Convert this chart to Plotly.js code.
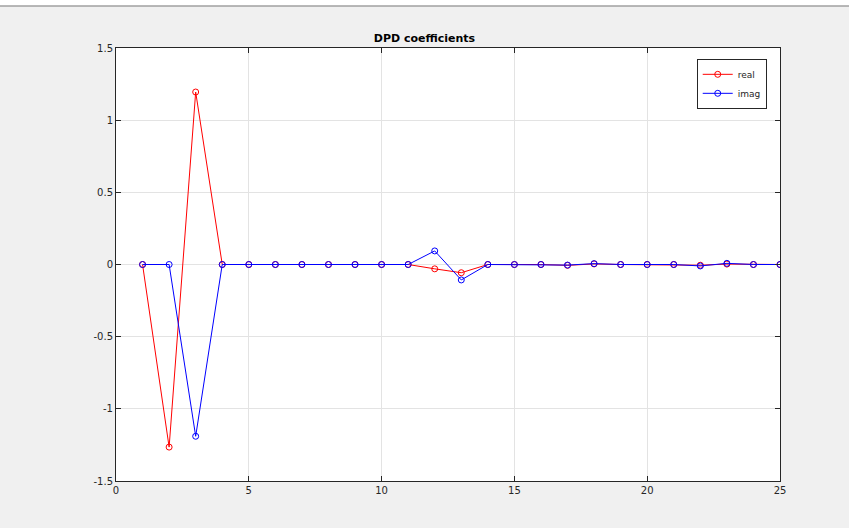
<!DOCTYPE html>
<html><head><meta charset="utf-8">
<script src="https://cdn.plot.ly/plotly-3.0.1.min.js"></script>
<style>html,body{margin:0;padding:0;background:#f0f0f0;}#chart{width:849px;height:528px;}</style>
</head><body><div id="chart"></div>
<script>
const idx = [1,2,3,4,5,6,7,8,9,10,11,12,13,14,15,16,17,18,19,20,21,22,23,24,25];
const realVals = [0,-1.265,1.195,0,0,0,0,0,0,0,0,-0.03,-0.057,0,0,0,-0.006,0.004,0,0,0,-0.005,0.003,0,0];
const imagVals = [0,0,-1.19,0,0,0,0,0,0,0,0,0.094,-0.107,0,0,0,-0.004,0.006,0,0,0,-0.01,0.008,0,0];
const xTicks = [0,5,10,15,20,25];
const yTicks = [-1.5,-1,-0.5,0,0.5,1,1.5];
const yTickText = ['-1.5','-1','-0.5','0','0.5','1','1.5'];

const traces = [
  {x: idx, y: realVals, name: 'real', mode: 'lines+markers', type: 'scatter',
   line: {color: '#ff0000', width: 1}, marker: {symbol: 'circle-open', size: 6, color: '#ff0000', line: {width: 1}}},
  {x: idx, y: imagVals, name: 'imag', mode: 'lines+markers', type: 'scatter',
   line: {color: '#0000ff', width: 1}, marker: {symbol: 'circle-open', size: 6, color: '#0000ff', line: {width: 1}}}
];
const axisCommon = {
  showline: true, linecolor: '#262626', linewidth: 1, mirror: 'ticks',
  ticks: 'inside', ticklen: 5, tickcolor: '#262626', tickwidth: 1,
  showgrid: true, gridcolor: '#e3e3e3', gridwidth: 1, zeroline: false,
  tickfont: {family: 'DejaVu Sans', size: 10, color: '#262626'}
};
const layout = {
  width: 849, height: 528,
  margin: {l: 116, r: 69, t: 48, b: 47},
  paper_bgcolor: '#f0f0f0', plot_bgcolor: '#ffffff',
  title: {text: '<b>DPD coefficients</b>', font: {family: 'DejaVu Sans', size: 11, color: '#000'},
          x: 0.5, xanchor: 'center', y: 1 - 38/528, yanchor: 'middle'},
  xaxis: Object.assign({}, axisCommon, {range: [0, 25], tickvals: xTicks, ticktext: xTicks.map(String)}),
  yaxis: Object.assign({}, axisCommon, {range: [-1.5, 1.5], tickvals: yTicks, ticktext: yTickText}),
  showlegend: true,
  legend: {x: 0.98, xanchor: 'right', y: 0.975, yanchor: 'top', bgcolor: '#ffffff',
           bordercolor: '#262626', borderwidth: 1, font: {family: 'DejaVu Sans', size: 9, color: '#262626'},
           tracegroupgap: 0, itemwidth: 30},
  shapes: [
    {type: 'rect', xref: 'paper', yref: 'paper', x0: -0.2, x1: 1.2, y0: 481/433 - 6/433, y1: 1.2,
     fillcolor: '#ffffff', line: {width: 0}, layer: 'below'},
    {type: 'line', xref: 'paper', yref: 'paper', x0: -0.2, x1: 1.2, y0: 481/433 - 6/433, y1: 481/433 - 6/433,
     line: {color: '#a0a0a0', width: 1.5}}
  ]
};
Plotly.newPlot('chart', traces, layout, {displayModeBar: false, staticPlot: true});
</script></body></html>
